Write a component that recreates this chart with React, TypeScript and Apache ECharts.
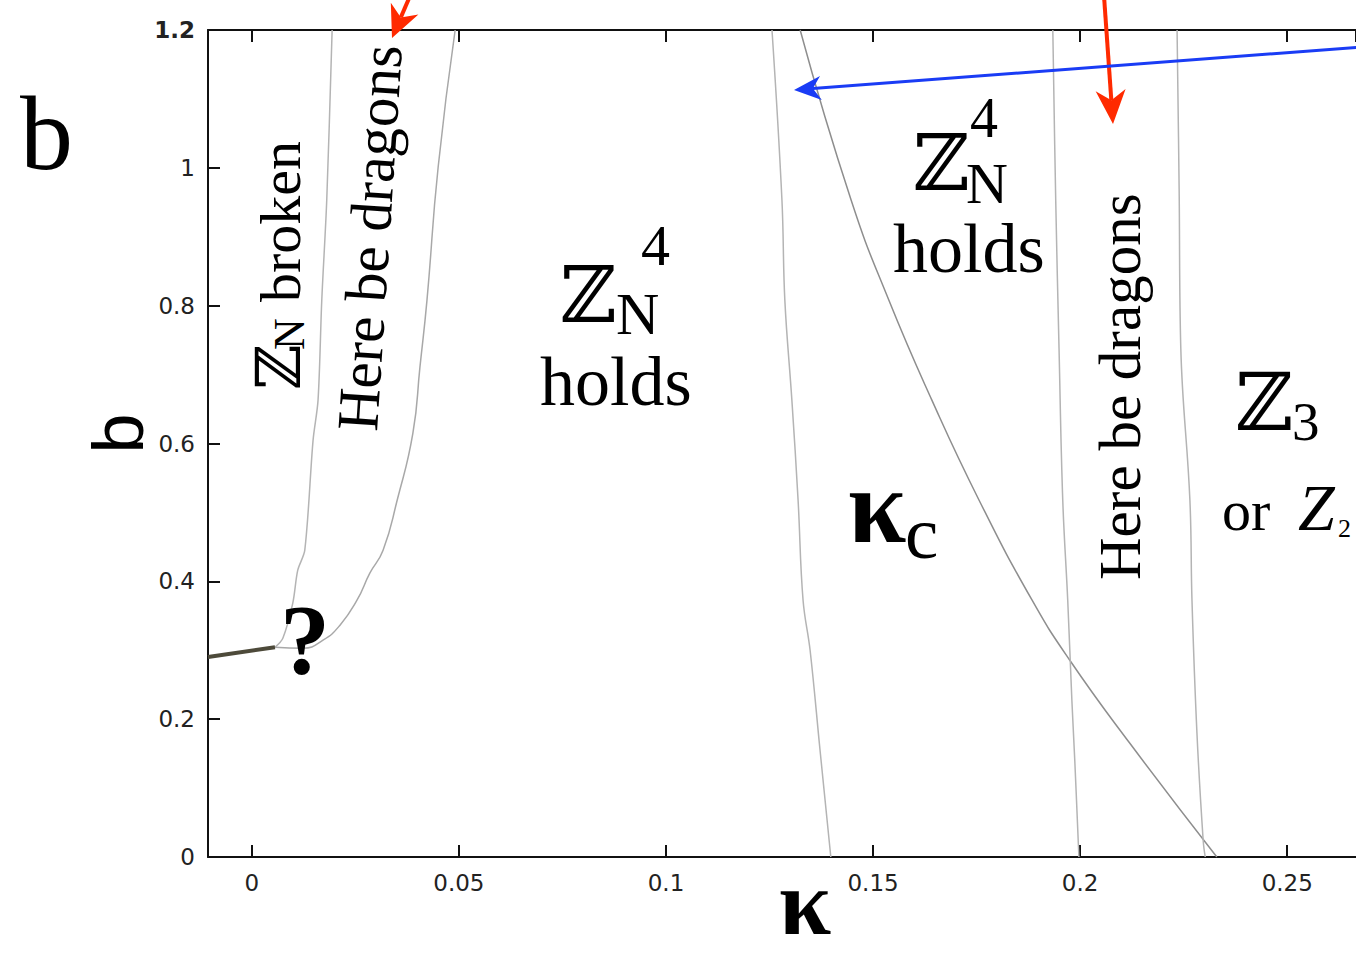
import React, { useEffect, useRef } from "react";
import * as echarts from "echarts";

// ---- axes ----
const KAPPA_MIN = -0.01057;
const KAPPA_MAX = 0.2666;
const B_MIN = 0;
const B_MAX = 1.2;
const B_STEP = 0.2;

// ---- phase boundaries, [kappa, b] ----
const orderedLine = [
  [-0.01057, 0.2903],
  [0.0056, 0.3044],
];
const brokenDragonsBoundary = [
  [0.0056, 0.3044], [0.0075, 0.3175], [0.0099, 0.3683], [0.0111, 0.4162],
  [0.0128, 0.4452], [0.0148, 0.6049], [0.016, 0.6629], [0.0169, 0.8081],
  [0.0181, 0.9532], [0.0194, 1.2],
];
const dragonsHoldsBoundary = [
  [0.0056, 0.3044], [0.0124, 0.303], [0.0172, 0.3146], [0.0213, 0.3364],
  [0.0254, 0.3726], [0.0285, 0.4118], [0.0317, 0.4452], [0.0351, 0.5177],
  [0.0389, 0.615], [0.0406, 0.7108], [0.0423, 0.8081], [0.045, 1.0012],
  [0.0491, 1.2],
];
const kappaCBoundary = [
  [0.1256, 1.2], [0.128, 0.9532], [0.1287, 0.808], [0.1304, 0.6629],
  [0.1319, 0.5177], [0.1331, 0.3726], [0.1348, 0.3], [0.1372, 0.1549],
  [0.1398, 0.0],
];
const kappaCCurve = [
  [0.1324, 1.2], [0.1447, 0.9532], [0.1538, 0.8081], [0.1642, 0.6629],
  [0.1756, 0.5177], [0.1884, 0.3726], [0.1975, 0.2855], [0.212, 0.165],
  [0.233, 0.0],
];
const dragons2Left = [
  [0.1934, 1.2], [0.1941, 0.9532], [0.1949, 0.7384], [0.1958, 0.5177],
  [0.197, 0.3726], [0.198, 0.2275], [0.1987, 0.1404], [0.1997, 0.0],
];
const dragons2Right = [
  [0.2234, 1.2], [0.2239, 0.9692], [0.2243, 0.7384], [0.2265, 0.5177],
  [0.227, 0.3726], [0.2282, 0.1796], [0.2297, 0.0243], [0.2302, 0.0],
];

const SERIF = "Liberation Serif";
const MATH = "DejaVu Serif";

function txt(
  text: string,
  x: number,
  baseline: number,
  size: number,
  family = SERIF,
  weight = "normal",
  fontStyle = "normal"
) {
  return {
    type: "text",
    x,
    y: baseline - 0.34 * size,
    silent: true,
    z: 100,
    style: {
      text,
      fill: "#000",
      fontSize: size,
      fontFamily: family,
      fontWeight: weight,
      fontStyle,
      lineHeight: Math.round(size * 0.8),
      align: "left",
      verticalAlign: "middle",
    },
  };
}

function arrow(
  sx: number, sy: number, tx: number, ty: number,
  color: string, width: number, headLen: number, halfW: number
) {
  const dx = tx - sx;
  const dy = ty - sy;
  const L = Math.hypot(dx, dy);
  const ux = dx / L;
  const uy = dy / L;
  const px = -uy;
  const py = ux;
  const bx = tx - ux * headLen;
  const by = ty - uy * headLen;
  const nx = tx - ux * headLen * 0.7;
  const ny = ty - uy * headLen * 0.7;
  return [
    {
      type: "line",
      silent: true,
      z: 110,
      shape: { x1: sx, y1: sy, x2: nx, y2: ny },
      style: { stroke: color, lineWidth: width },
    },
    {
      type: "polygon",
      silent: true,
      z: 111,
      shape: {
        points: [
          [tx, ty],
          [bx + px * halfW, by + py * halfW],
          [nx, ny],
          [bx - px * halfW, by - py * halfW],
        ],
      },
      style: { fill: color },
    },
  ];
}

const lineSeries = (data: number[][], color: string, width: number, smooth: any = 0.4) => ({
  type: "line",
  data,
  symbol: "none",
  showSymbol: false,
  smooth,
  silent: true,
  xAxisIndex: 0,
  yAxisIndex: 0,
  lineStyle: { color, width },
  emphasis: { disabled: true },
});

export default function App() {
  const ref = useRef<HTMLDivElement>(null);
  useEffect(() => {
    if (!ref.current) return;
    const chart = echarts.init(ref.current, null, { renderer: "svg" });
    const axisLine = { show: true, onZero: false, lineStyle: { color: "#111", width: 2 } };
    const tickFont = { fontFamily: "DejaVu Sans", fontSize: 23, color: "#222" };
    const option: any = {
      animation: false,
      backgroundColor: "#fff",
      grid: {
        left: 208,
        right: 0,
        top: 30,
        bottom: 99,
        containLabel: false,
        outerBoundsMode: "none",
      },
      xAxis: [
        {
          type: "value",
          min: KAPPA_MIN,
          max: KAPPA_MAX,
          splitNumber: 5,
          position: "bottom",
          axisLine,
          axisTick: { show: true, inside: true, length: 12, lineStyle: { color: "#111", width: 2 } },
          axisLabel: { ...tickFont, margin: 14, showMinLabel: false, showMaxLabel: false },
          splitLine: { show: false },
          name: "κ",
          nameLocation: "middle",
          nameMoveOverlap: false,
          nameGap: 15,
          nameTextStyle: {
            fontFamily: SERIF,
            fontSize: 94,
            fontWeight: "bold",
            color: "#000",
            lineHeight: 60,
            padding: [0, 0, 0, 46],
          },
        },
        {
          type: "value",
          min: KAPPA_MIN,
          max: KAPPA_MAX,
          splitNumber: 5,
          position: "top",
          axisLine,
          axisTick: { show: true, inside: true, length: 12, lineStyle: { color: "#111", width: 2 } },
          axisLabel: { show: false },
          splitLine: { show: false },
        },
      ],
      yAxis: {
        type: "value",
        min: B_MIN,
        max: B_MAX,
        interval: B_STEP,
        position: "left",
        axisLine,
        axisTick: { show: true, inside: true, length: 12, lineStyle: { color: "#111", width: 2 } },
        axisLabel: {
          ...tickFont,
          margin: 13,
          formatter: (v: number) => (v >= 1.19 ? "{top|" + v + "}" : String(v)),
          rich: { top: { ...tickFont, fontWeight: "bold" } },
        },
        splitLine: { show: false },
        name: "b",
        nameLocation: "middle",
        nameRotate: 90,
        nameMoveOverlap: false,
        nameGap: 60,
        nameTextStyle: {
          fontFamily: "Liberation Sans",
          fontSize: 72,
          color: "#000",
          lineHeight: 60,
          padding: [0, 0, 0, 20],
        },
      },
      series: [
        lineSeries(brokenDragonsBoundary, "#b4b4b4", 1.5, 0.3),
        lineSeries(dragonsHoldsBoundary, "#a8a8a8", 1.5, 0.5),
        lineSeries(kappaCBoundary, "#b4b4b4", 1.5, 0.4),
        lineSeries(kappaCCurve, "#8e8e8e", 1.5, 0.5),
        lineSeries(dragons2Left, "#b4b4b4", 1.5, 0.4),
        lineSeries(dragons2Right, "#b4b4b4", 1.5, 0.4),
        lineSeries(orderedLine, "#4d4a3a", 4, false),
      ],
      graphic: [
        // panel letter
        txt("b", 20, 170, 106),
        // left vertical labels
        {
          type: "group",
          x: 300,
          y: 390,
          rotation: Math.PI / 2,
          children: [
            txt("ℤ", 0, 0, 62, MATH),
            txt("N", 40, 4, 44),
            txt("broken", 88, 0, 58),
          ],
        },
        {
          type: "group",
          x: 377,
          y: 432,
          rotation: (86.3 * Math.PI) / 180,
          children: [txt("Here be dragons", 0, 0, 59)],
        },
        {
          type: "group",
          x: 1140,
          y: 580,
          rotation: Math.PI / 2,
          children: [txt("Here be dragons", 0, 0, 59)],
        },
        // question mark
        txt("?", 280, 673, 100, SERIF, "bold"),
        // Z_N^4 holds (middle)
        txt("ℤ", 560, 322, 78, MATH),
        txt("N", 616, 334, 60),
        txt("4", 641, 265, 58),
        txt("holds", 540, 405, 70),
        // Z_N^4 holds (upper right)
        txt("ℤ", 913, 190, 78, MATH),
        txt("N", 966, 203, 58),
        txt("4", 970, 137, 56),
        txt("holds", 893, 272, 70),
        // kappa_c
        txt("κ", 848, 542, 105, SERIF, "bold"),
        txt("c", 905, 558, 75),
        // Z3 or Z2
        txt("ℤ", 1235, 430, 80, MATH),
        txt("3", 1292, 440, 55),
        txt("or", 1222, 530, 58),
        txt("Z", 1298, 530, 66, SERIF, "normal", "italic"),
        txt("2", 1338, 537, 26),
        // arrows
        ...arrow(410, -4, 392, 38, "#ff2a00", 4, 32, 15),
        ...arrow(1104, -4, 1113, 124, "#ff2a00", 4, 34, 15),
        ...arrow(1362, 47, 794, 90, "#1a3cf5", 3, 27, 12),
      ],
    };
    chart.setOption(option);
    return () => chart.dispose();
  }, []);
  return (
    <div
      ref={ref}
      style={{ position: "fixed", left: 0, top: 0, width: 1356, height: 956, background: "#fff" }}
    />
  );
}
